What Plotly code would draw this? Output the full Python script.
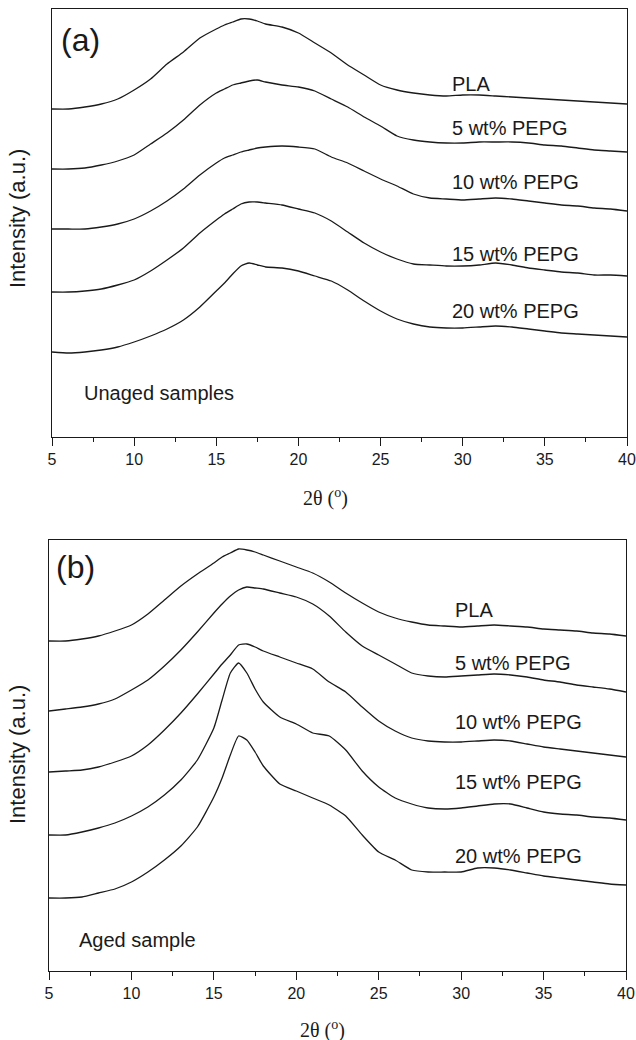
import plotly.graph_objects as go

# 2-theta grid (degrees)
two_theta = [5, 6, 7, 8, 9, 10, 11, 12, 13, 14, 15, 15.5, 16, 16.5, 17, 17.5, 18,
             19, 20, 21, 22, 23, 24, 25, 26, 27, 28, 29, 30, 31, 32, 33, 34, 35,
             36, 37, 38, 39, 40]

# (a) Unaged samples - stacked intensities (a.u.)
a_pla = [328, 328, 330, 333, 338, 347, 358, 373, 385, 399, 408, 412, 415, 418, 418, 416, 413,
         410, 404, 394, 384, 372, 362, 352, 347, 344, 342, 341, 342, 342, 341, 340, 339, 338,
         337, 336, 335, 334, 333]
a_5 = [268, 268, 269, 272, 276, 282, 293, 304, 317, 332, 344, 348, 352, 354, 356, 357, 355,
       352, 350, 346, 338, 330, 320, 311, 301, 297, 295, 294, 294, 295, 295, 295, 294, 292,
       291, 289, 287, 286, 285]
a_10 = [208, 208, 208, 210, 213, 218, 226, 236, 248, 262, 274, 279, 282, 285, 287, 289, 290,
        291, 290, 288, 280, 274, 266, 258, 251, 243, 239, 238, 237, 238, 239, 238, 236, 234,
        232, 231, 229, 228, 226]
a_15 = [145, 145, 146, 148, 152, 157, 166, 177, 189, 204, 217, 223, 228, 233, 235, 235, 234,
        232, 228, 224, 216, 205, 194, 185, 178, 173, 172, 171, 171, 172, 174, 172, 169, 167,
        165, 164, 162, 162, 161]
a_20 = [85, 84, 85, 87, 90, 95, 101, 108, 117, 130, 146, 154, 163, 171, 174, 172, 170,
        169, 166, 161, 156, 147, 136, 126, 118, 113, 110, 109, 109, 110, 111, 110, 108, 106,
        104, 103, 102, 101, 100]

# (b) Aged samples - stacked intensities (a.u.)
b_pla = [330, 330, 332, 335, 340, 346, 357, 371, 385, 397, 408, 414, 418, 422, 421, 419, 416,
         410, 404, 398, 389, 378, 368, 359, 353, 349, 346, 345, 344, 345, 346, 345, 344, 342,
         341, 340, 338, 337, 335]
b_5 = [260, 262, 264, 267, 272, 281, 291, 305, 321, 339, 358, 367, 375, 381, 384, 383, 382,
       378, 374, 367, 355, 339, 325, 316, 307, 298, 295, 294, 295, 296, 297, 296, 294, 291,
       289, 286, 284, 282, 279]
b_10 = [199, 200, 201, 204, 209, 215, 226, 241, 258, 277, 297, 307, 316, 326, 327, 324, 320,
        314, 308, 302, 289, 279, 264, 250, 240, 233, 230, 229, 229, 230, 231, 230, 227, 224,
        222, 220, 218, 216, 214]
b_15 = [136, 136, 139, 143, 148, 155, 164, 176, 191, 211, 243, 271, 298, 308, 298, 282, 269,
        254, 247, 238, 235, 221, 200, 184, 173, 167, 163, 162, 163, 165, 167, 167, 163, 159,
        157, 156, 154, 153, 151]
b_20 = [73, 73, 74, 78, 82, 89, 99, 111, 125, 144, 174, 193, 216, 235, 231, 219, 205,
        187, 180, 173, 166, 155, 136, 119, 111, 101, 99, 99, 99, 103, 103, 101, 98, 95,
        93, 91, 89, 87, 86]

series_labels = ["PLA", "5 wt% PEPG", "10 wt% PEPG", "15 wt% PEPG", "20 wt% PEPG"]
a_label_y = [353, 309, 255, 183, 126]
b_label_y = [361, 308, 249, 189, 115]
x_ticks = [5, 10, 15, 20, 25, 30, 35, 40]

FONT = "Liberation Sans, Arial, sans-serif"
SERIF = "Liberation Serif, Times New Roman, serif"
INK = "#1a1a1a"
W, H = 636, 1040

fig = go.Figure()
for ys in [a_pla, a_5, a_10, a_15, a_20]:
    fig.add_trace(go.Scatter(x=two_theta, y=ys, mode="lines", xaxis="x", yaxis="y",
                             line=dict(color=INK, width=1.3, shape="spline", smoothing=0.5),
                             showlegend=False, hoverinfo="skip"))
for ys in [b_pla, b_5, b_10, b_15, b_20]:
    fig.add_trace(go.Scatter(x=two_theta, y=ys, mode="lines", xaxis="x2", yaxis="y2",
                             line=dict(color=INK, width=1.3, shape="spline", smoothing=0.5),
                             showlegend=False, hoverinfo="skip"))

annots = []
for lab, yy in zip(series_labels, a_label_y):
    annots.append(dict(x=29.2, y=yy, xref="x", yref="y", text=lab, showarrow=False,
                       xanchor="left", yanchor="middle",
                       font=dict(family=FONT, size=20, color=INK)))
for lab, yy in zip(series_labels, b_label_y):
    annots.append(dict(x=29.5, y=yy, xref="x2", yref="y2", text=lab, showarrow=False,
                       xanchor="left", yanchor="middle",
                       font=dict(family=FONT, size=20, color=INK)))
annots += [
    dict(x=6.8, y=44, xref="x", yref="y", text="Unaged samples", showarrow=False,
         xanchor="left", yanchor="middle", font=dict(family=FONT, size=20, color=INK)),
    dict(x=6.7, y=31, xref="x2", yref="y2", text="Aged sample", showarrow=False,
         xanchor="left", yanchor="middle", font=dict(family=FONT, size=20, color=INK)),
    dict(x=5.4, y=397, xref="x", yref="y", text="(a)", showarrow=False,
         xanchor="left", yanchor="middle", font=dict(family=FONT, size=32, color=INK)),
    dict(x=5.3, y=404, xref="x2", yref="y2", text="(b)", showarrow=False,
         xanchor="left", yanchor="middle", font=dict(family=FONT, size=32, color=INK)),
    # axis titles
    dict(x=17 / W, y=1 - 219 / H, xref="paper", yref="paper", text="Intensity (a.u.)",
         textangle=-90, showarrow=False, xanchor="center", yanchor="middle",
         font=dict(family=FONT, size=22, color=INK)),
    dict(x=17 / W, y=1 - 755 / H, xref="paper", yref="paper", text="Intensity (a.u.)",
         textangle=-90, showarrow=False, xanchor="center", yanchor="middle",
         font=dict(family=FONT, size=22, color=INK)),
    dict(x=325 / W, y=1 - 497 / H, xref="paper", yref="paper", text="2θ (<sup>o</sup>)",
         showarrow=False, xanchor="center", yanchor="middle",
         font=dict(family=SERIF, size=20, color=INK)),
    dict(x=322 / W, y=1 - 1029 / H, xref="paper", yref="paper", text="2θ (<sup>o</sup>)",
         showarrow=False, xanchor="center", yanchor="middle",
         font=dict(family=SERIF, size=20, color=INK)),
]
fig.update_layout(annotations=annots)


def xaxis_cfg(domain, anchor):
    return dict(domain=domain, anchor=anchor, range=[5, 40], tickvals=x_ticks,
                ticks="outside", ticklen=8, tickwidth=1.2, tickcolor=INK,
                minor=dict(dtick=2.5, tick0=5, ticks="outside", ticklen=4, tickwidth=1.2,
                           tickcolor=INK, showgrid=False),
                showline=True, linecolor=INK, linewidth=1.2, mirror=True,
                showgrid=False, zeroline=False, automargin=False,
                tickfont=dict(family=FONT, size=16, color=INK))


def yaxis_cfg(domain, anchor, top):
    return dict(domain=domain, anchor=anchor, range=[0, top], showticklabels=False,
                ticks="", showline=True, linecolor=INK, linewidth=1.2, mirror=True,
                showgrid=False, zeroline=False, automargin=False)


fig.update_layout(
    width=W, height=H,
    margin=dict(l=0, r=0, t=0, b=0),
    paper_bgcolor="white", plot_bgcolor="white",
    xaxis=xaxis_cfg([52 / W, 627 / W], "y"),
    yaxis=yaxis_cfg([(H - 437) / H, (H - 9) / H], "x", 428),
    xaxis2=xaxis_cfg([49 / W, 626 / W], "y2"),
    yaxis2=yaxis_cfg([(H - 971) / H, (H - 540) / H], "x2", 431),
)

fig.write_html("out.html")
